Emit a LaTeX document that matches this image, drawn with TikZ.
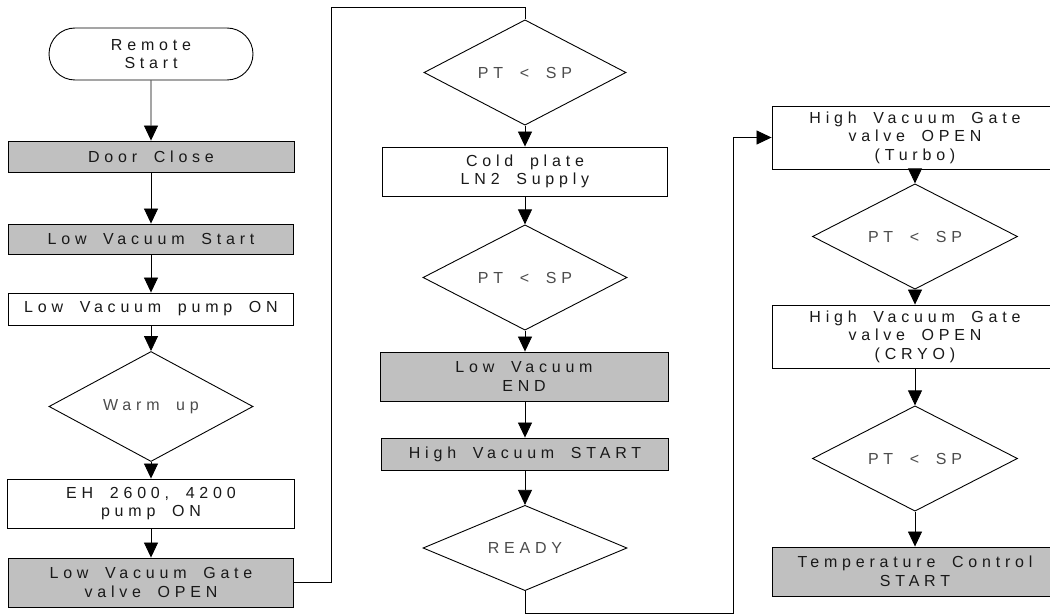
\documentclass[tikz,border=0pt]{standalone}
\usepackage{fontspec}
\usetikzlibrary{shapes.geometric,shapes.misc,arrows.meta}
\newfontfamily\lblfont{Liberation Sans}[LetterSpace=30,WordSpace=1.8]
\definecolor{stepgray}{HTML}{C0C0C0}
\begin{document}
\begin{tikzpicture}[x=1pt,y=-1pt,
  base/.style={draw=black,line width=0.9pt,inner sep=0pt,align=center,
    font=\lblfont\fontsize{16}{18.5}\selectfont,text=black!90},
  proc/.style={base,rectangle,fill=white},
  gproc/.style={base,rectangle,fill=stepgray},
  term/.style={base,rounded rectangle,fill=white},
  cond/.style={base,diamond,fill=white,text=black!70},
  link/.style={draw=black,line width=0.8pt},
  arr/.style={link,-{Triangle[width=14pt,length=15pt]}}]
\clip (0,0) rectangle (1050,615);
\fill[white] (0,0) rectangle (1050,615);

% first column
\node[term,minimum width=204pt,minimum height=52pt] (start) at (151,54) {Remote\\Start};
\node[gproc,minimum width=286pt,minimum height=31pt] (door) at (151,156.5) {Door Close};
\node[gproc,minimum width=285pt,minimum height=30pt] (lvs) at (151,239) {Low Vacuum Start};
\node[proc,minimum width=285pt,minimum height=32pt] (lvp) at (151,309) {Low Vacuum pump ON};
\node[cond,minimum width=204pt,minimum height=79pt] (warm) at (151,406.5) {Warm up};
\node[proc,minimum width=287pt,minimum height=49pt] (eh) at (151,503.5) {EH 2600, 4200\\pump ON};
\node[gproc,minimum width=285pt,minimum height=49pt] (gate) at (151,582.5) {Low Vacuum Gate\\valve OPEN};

% second column
\node[cond,minimum width=202pt,minimum height=79pt] (d1) at (525,72.5) {PT < SP};
\node[proc,minimum width=285pt,minimum height=49pt] (cold) at (525,171.5) {Cold plate\\LN2 Supply};
\node[cond,minimum width=204pt,minimum height=79pt] (d2) at (525,277.5) {PT < SP};
\node[gproc,minimum width=288pt,minimum height=49pt] (lve) at (524,376.5) {Low Vacuum\\END};
\node[gproc,minimum width=287pt,minimum height=32pt] (hvs) at (525,454) {High Vacuum START};
\node[cond,minimum width=204pt,minimum height=78pt] (ready) at (525,548) {READY};

% third column
\node[proc,minimum width=286pt,minimum height=63pt] (turbo) at (915,137.5) {High Vacuum Gate\\valve OPEN\\(Turbo)};
\node[cond,minimum width=205pt,minimum height=81pt] (d3) at (915,236.5) {PT < SP};
\node[proc,minimum width=286pt,minimum height=63pt] (cryo) at (915,336.5) {High Vacuum Gate\\valve OPEN\\(CRYO)};
\node[cond,minimum width=205pt,minimum height=79pt] (d4) at (915,458.5) {PT < SP};
\node[gproc,minimum width=286pt,minimum height=49pt] (temp) at (915,571.5) {Temperature Control\\START};

% routing points of the two column links
\coordinate (loopA) at (331,7);
\coordinate (loopB) at (733,613);

% connectors
\draw[arr] (start) -- (door);
\draw[arr] (door) -- (lvs);
\draw[arr] (lvs) -- (lvp);
\draw[arr] (lvp) -- (warm);
\draw[arr] (warm) -- (eh);
\draw[arr] (eh) -- (gate);
\draw[link] (gate.east) -| (loopA) -| (d1.north);
\draw[arr] (d1) -- (cold);
\draw[arr] (cold) -- (d2);
\draw[arr] (d2) -- (d2 |- lve.north);
\draw[arr] (lve.south -| hvs) -- (hvs);
\draw[arr] (hvs) -- (ready);
\draw[arr] (ready.south) |- (loopB) |- (turbo.west);
\draw[arr] (turbo) -- (d3);
\draw[arr] (d3) -- (cryo);
\draw[arr] (cryo) -- (d4);
\draw[arr] (d4) -- (temp);
\end{tikzpicture}
\end{document}
